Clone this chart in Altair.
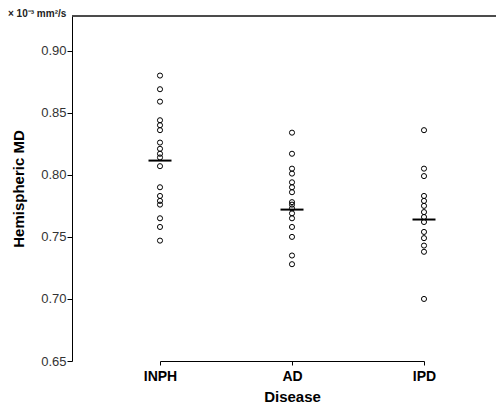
import altair as alt
import pandas as pd

categories = ["INPH", "AD", "IPD"]

inph = [0.880, 0.869, 0.859, 0.844, 0.840, 0.836, 0.826, 0.821, 0.817, 0.814,
        0.807, 0.790, 0.783, 0.779, 0.776, 0.765, 0.758, 0.747]
ad = [0.834, 0.817, 0.805, 0.801, 0.794, 0.790, 0.786, 0.778, 0.776, 0.773,
      0.769, 0.765, 0.758, 0.750, 0.735, 0.728]
ipd = [0.836, 0.805, 0.799, 0.783, 0.779, 0.775, 0.770, 0.766, 0.762, 0.754,
       0.749, 0.743, 0.738, 0.700]
means = [0.8115, 0.772, 0.764]

y_ticks = [0.65, 0.70, 0.75, 0.80, 0.85, 0.90]
unit_label = "× 10⁻³ mm²/s"

rows = []
for cat, vals in zip(categories, [inph, ad, ipd]):
    for v in vals:
        rows.append({"Disease": cat, "MD": v})
pts = pd.DataFrame(rows)
mean_df = pd.DataFrame({"Disease": categories, "MD": means})

FONT = "Liberation Sans"
W, H = 424, 345

x_enc = alt.X("Disease:N", sort=categories,
              scale=alt.Scale(type="point", domain=categories, range=[88, 352], padding=0),
              axis=alt.Axis(title="Disease", labelAngle=0, titleX=220, titleY=28))
y_enc = alt.Y("MD:Q",
              scale=alt.Scale(domain=[0.65, 0.928], nice=False, zero=False),
              axis=alt.Axis(title="Hemispheric MD", values=y_ticks, format=".2f"))

points = alt.Chart(pts).mark_point(shape="circle", filled=False, color="black",
                                   size=26, strokeWidth=1, opacity=1).encode(x=x_enc, y=y_enc)

mean_ticks = alt.Chart(mean_df).mark_tick(color="black", thickness=2, size=23,
                                          opacity=1).encode(x=x_enc, y=y_enc)

top_line = alt.Chart(mean_df).mark_rule(color="#333", strokeWidth=1).encode(
    x=alt.value(0), x2=alt.value(W), y=alt.value(0))

unit = alt.Chart(pd.DataFrame({"t": [unit_label]})).mark_text(
    align="left", baseline="middle", font=FONT, fontSize=10, fontWeight="bold",
    color="#222").encode(x=alt.value(-64), y=alt.value(-2), text="t:N")

chart = alt.layer(points, mean_ticks, top_line, unit).properties(
    width=W, height=H,
    autosize=alt.AutoSizeParams(type="none"),
    padding={"left": 64, "top": 8, "right": 0, "bottom": 45},
    background="white",
).configure_view(stroke=None).configure_axis(
    grid=False, domainColor="black", domainWidth=1, tickColor="black",
    labelFont=FONT, titleFont=FONT, titleFontWeight="bold", titleColor="black",
).configure_axisY(
    labelFontSize=13, labelColor="#333", tickSize=5, labelPadding=1,
    titleFontSize=15, titlePadding=14,
).configure_axisX(
    labelFontSize=14, labelFontWeight="bold", labelColor="black", tickSize=4,
    labelPadding=4, titleFontSize=15,
)

chart.save("out.html", embed_options={"renderer": "svg", "actions": False})
